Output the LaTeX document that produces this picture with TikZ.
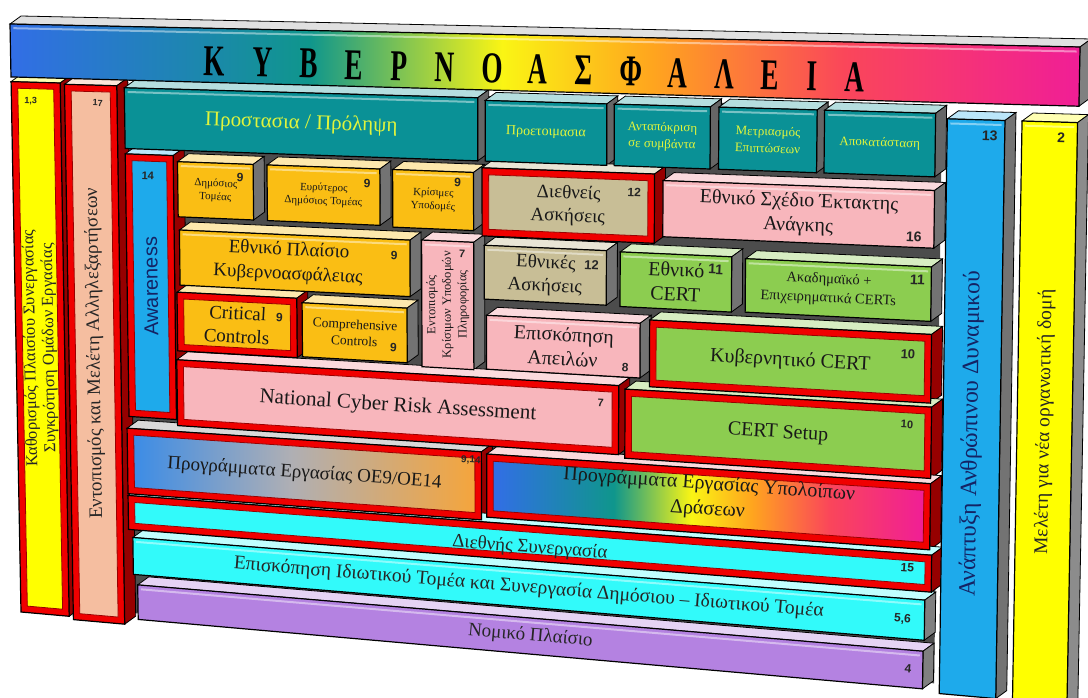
\documentclass[tikz,border=0pt]{standalone}
\usepackage{fontspec}
\setmainfont{Liberation Serif}
\newfontfamily\sansf{Liberation Sans}
\usetikzlibrary{calc}
\definecolor{rb1}{RGB}{50,110,230}
\definecolor{rb2}{RGB}{15,150,140}
\definecolor{rb3}{RGB}{250,245,20}
\definecolor{rb4}{RGB}{255,165,30}
\definecolor{rb5}{RGB}{250,70,90}
\definecolor{rb6}{RGB}{240,30,150}
\definecolor{bg1}{RGB}{60,140,230}
\definecolor{bg2}{RGB}{175,175,180}
\definecolor{bg3}{RGB}{245,165,60}
\definecolor{cTeal}{RGB}{10,145,150}
\definecolor{cTealTxt}{RGB}{225,245,60}
\definecolor{cGold}{RGB}{250,190,20}
\definecolor{cKhaki}{RGB}{200,190,150}
\definecolor{cPink}{RGB}{248,182,188}
\definecolor{cGreen}{RGB}{140,205,80}
\definecolor{cBlue}{RGB}{30,170,235}
\definecolor{cNavy}{RGB}{20,35,100}
\definecolor{cYellow}{RGB}{255,255,0}
\definecolor{cPeach}{RGB}{245,190,160}
\definecolor{cCyan}{RGB}{50,250,250}
\definecolor{cPurple}{RGB}{180,130,225}
\definecolor{cRed}{RGB}{240,0,0}
\definecolor{cRedDark}{RGB}{150,0,0}
\pgfdeclarehorizontalshading{rainbow}{100bp}{color(0bp)=(rb1); color(25bp)=(rb1); color(39bp)=(rb2); color(48bp)=(rb3); color(55bp)=(rb4); color(64bp)=(rb5); color(75bp)=(rb6); color(100bp)=(rb6)}
\pgfdeclarehorizontalshading{bgo}{100bp}{color(0bp)=(bg1); color(25bp)=(bg1); color(48bp)=(bg2); color(75bp)=(bg3); color(100bp)=(bg3)}
\newcommand\defkind[5]{\tikzset{front-#1/.style={#2}, top-#1/.style={fill=#3}, side-#1/.style={fill=#4}, txt-#1/.style={text=#5, align=center, inner sep=0pt}}}
\defkind{banner}{shade, shading=rainbow}{black!12}{black!50}{black}
\defkind{teal}{fill=cTeal}{cTeal!30!white}{black!60}{cTealTxt}
\defkind{gold}{fill=cGold}{cGold!35!white}{black!55}{black!90}
\defkind{khaki}{fill=cKhaki}{cKhaki!40!white}{black!55}{black!90}
\defkind{pink}{fill=cPink}{cPink!50!white}{black!55}{black!90}
\defkind{green}{fill=cGreen}{cGreen!35!white}{black!55}{black!90}
\defkind{blue}{fill=cBlue}{cBlue!30!white}{black!55}{cNavy}
\defkind{yellow}{fill=cYellow}{cYellow!30!white}{black!45}{black!85}
\defkind{peach}{fill=cPeach}{cPeach!40!white}{black!55}{black!85}
\defkind{cyan}{fill=cCyan}{cCyan!30!white}{black!50}{black!85}
\defkind{purple}{fill=cPurple}{cPurple!35!white}{black!50}{black!85}
\defkind{rain}{shade, shading=rainbow}{cPink!50!white}{black!55}{black!90}
\defkind{bgo}{shade, shading=bgo}{black!15}{black!55}{black!90}
\tikzset{side-red/.style={fill=cRedDark}, brk-extra/.style={},
  numst/.style={text=black!85, inner sep=0pt}}
\newif\ifextpass
\newif\ifbred
\newif\ifbvert
\pgfkeys{/brk/.cd,
  red/.code={\bredtrue},
  vert/.code={\bverttrue},
  size/.store in=\bsize,
  tu/.store in=\btu,
  tv/.store in=\btv,
  lead/.store in=\blead,
  fam/.store in=\bfam,
  nopt/.code={\tikzset{brk-extra/.style={#1}}}}
\def\ddx{11}\def\ddy{-8}
\def\bdu{0.0062}\def\bdv{0.011}
\newcommand\brick[8][]{%
  \begingroup
  \bredfalse\bvertfalse\def\bfam{}\tikzset{brk-extra/.style={}}%
  \pgfkeys{/brk/.cd, size=18, tu=0, tv=0, lead=1.22, #1}%
  \coordinate (#2-tl) at ({px(#3,#4)},{py(#3,#4)});
  \coordinate (#2-tr) at ({px(#5,#4)},{py(#5,#4)});
  \coordinate (#2-br) at ({px(#5,#6)},{py(#5,#6)});
  \coordinate (#2-bl) at ({px(#3,#6)},{py(#3,#6)});
  \ifextpass
    \path[top-#7, draw=black, line width=0.8] (#2-tl) -- (#2-tr) -- ([shift={(\ddx,\ddy)}]#2-tr) -- ([shift={(\ddx,\ddy)}]#2-tl) -- cycle;
    \ifbred\def\sidest{side-red}\else\def\sidest{side-#7}\fi
    \path[\sidest, draw=black, line width=0.8] (#2-tr) -- (#2-br) -- ([shift={(\ddx,\ddy)}]#2-br) -- ([shift={(\ddx,\ddy)}]#2-tr) -- cycle;
  \else
    \ifbred
      \path[fill=cRed, draw=black, line width=1.2] (#2-tl) -- (#2-tr) -- (#2-br) -- (#2-bl) -- cycle;
      \path[front-#7, draw=red!60!black, line width=0.8]
        ({px(#3+\bdu,#4+\bdv)},{py(#3+\bdu,#4+\bdv)}) --
        ({px(#5-\bdu,#4+\bdv)},{py(#5-\bdu,#4+\bdv)}) --
        ({px(#5-\bdu,#6-\bdv)},{py(#5-\bdu,#6-\bdv)}) --
        ({px(#3+\bdu,#6-\bdv)},{py(#3+\bdu,#6-\bdv)}) -- cycle;
    \else
      \path[front-#7, draw=black, line width=1.2] (#2-tl) -- (#2-tr) -- (#2-br) -- (#2-bl) -- cycle;
      \draw[white, opacity=0.45, line width=2]
        ({px(#3+0.003,#4+0.007)},{py(#3+0.003,#4+0.007)}) --
        ({px(#5-0.003,#4+0.007)},{py(#5-0.003,#4+0.007)});
    \fi
    \pgfmathsetmacro\uc{(#3+#5)/2+\btu}%
    \pgfmathsetmacro\vc{(#4+#6)/2+\btv}%
    \pgfmathsetmacro\bskip{\blead*\bsize}%
    \ifbvert
      \pgfmathsetmacro\ang{90+atan((11-23*\uc)/(588+70*\uc))}%
    \else
      \pgfmathsetmacro\ang{-atan((23+70*\vc)/(1070-23*\vc))}%
    \fi
    \node[txt-#7, rotate=\ang, brk-extra, font={\bfam\fontsize{\bsize}{\bskip}\selectfont}] (#2) at ({px(\uc,\vc)},{py(\uc,\vc)}) {#8};
  \fi
  \endgroup}
\newcommand\numb[5][13]{%
  \pgfmathsetmacro\nang{-atan((23+70*#4)/(1070-23*#4))}%
  \node[numst, rotate=\nang, font={\sansf\bfseries\fontsize{#1}{#1}\selectfont}] (#2) at ({px(#3,#4)},{py(#3,#4)}) {#5};}
\newcommand\allbricks{%
  \brick[size=44, fam=\bfseries, nopt={xscale=0.62}, tu=-0.01, tv=0.01]{ban}{0}{0}{1}{0.09}{banner}{\addfontfeatures{LetterSpace=100}ΚΥΒΕΡΝΟΑΣΦΑΛΕΙΑ}
  \brick[red, vert, size=16.5, lead=1.12]{colA}{0}{0.098}{0.046}{1.0}{yellow}{Καθορισμός Πλαισίου Συνεργασίας\\Συγκρότηση Ομάδων Εργασίας}
  \brick[red, vert, size=19]{colB}{0.05}{0.1}{0.099}{1.005}{peach}{Εντοπισμός και Μελέτη Αλληλεξαρτήσεων}
  \brick[size=21]{prot}{0.106}{0.103}{0.437}{0.205}{teal}{Προστασια / Πρόληψη}
  \brick[size=14]{pret}{0.444}{0.107}{0.558}{0.205}{teal}{Προετοιμασια}
  \brick[size=13, lead=1.3]{anta}{0.565}{0.107}{0.655}{0.205}{teal}{Ανταπόκριση\\σε συμβάντα}
  \brick[size=13, lead=1.3]{metr}{0.663}{0.107}{0.755}{0.205}{teal}{Μετριασμός\\Επιπτώσεων}
  \brick[size=13]{apok}{0.762}{0.107}{0.866}{0.205}{teal}{Αποκατάσταση}
  \brick[red, vert, size=20, fam=\sansf]{aw}{0.106}{0.214}{0.151}{0.655}{blue}{Awareness}
  \brick[size=11]{dim}{0.155}{0.224}{0.226}{0.316}{gold}{Δημόσιος\\Τομέας}
  \brick[size=11]{eyr}{0.239}{0.224}{0.345}{0.316}{gold}{Ευρύτερος\\Δημόσιος Τομέας}
  \brick[size=11]{kris}{0.357}{0.224}{0.433}{0.318}{gold}{Κρίσιμες\\Υποδομές}
  \brick[red, size=19]{dask}{0.441}{0.216}{0.603}{0.326}{khaki}{Διεθνείς\\Ασκήσεις}
  \brick[size=20]{sxed}{0.611}{0.226}{0.866}{0.315}{pink}{Εθνικό Σχέδιο Έκτακτης\\Ανάγκης}
  \brick[size=19, tu=-0.006, lead=1.28]{epl}{0.156}{0.338}{0.373}{0.43}{gold}{Εθνικό Πλαίσιο\\Κυβερνοασφάλειας}
  \brick[vert, size=12.5, lead=1.25]{ento}{0.384}{0.337}{0.433}{0.543}{pink}{Εντοπισμός\\Κρίσιμων Υποδομών\\Πληροφορίας}
  \brick[size=19]{eask}{0.443}{0.341}{0.558}{0.428}{khaki}{Εθνικές\\Ασκήσεις}
  \brick[size=20]{ecert}{0.571}{0.342}{0.676}{0.429}{green}{Εθνικό\\CERT}
  \brick[size=14.5, tu=-0.009, lead=1.3]{akad}{0.689}{0.344}{0.864}{0.428}{green}{Ακαδημαϊκό +\\Επιχειρηματικά CERTs}
  \brick[red, size=19]{crit}{0.153}{0.442}{0.266}{0.54}{gold}{Critical\\Controls}
  \brick[size=13.5]{comp}{0.271}{0.449}{0.37}{0.538}{gold}{Comprehensive\\Controls}
  \brick[size=20]{apei}{0.445}{0.454}{0.59}{0.541}{pink}{Επισκόπηση\\Απειλών}
  \brick[red, size=20]{kcert}{0.599}{0.448}{0.865}{0.554}{green}{Κυβερνητικό CERT}
  \brick[red, size=21]{ncra}{0.152}{0.555}{0.57}{0.665}{pink}{National Cyber Risk Assessment}
  \brick[red, size=20]{cset}{0.576}{0.56}{0.866}{0.67}{green}{CERT Setup}
  \brick[red, size=19]{oe}{0.104}{0.675}{0.44}{0.785}{bgo}{Προγράμματα Εργασίας ΟΕ9/ΟΕ14}
  \brick[red, size=20, lead=1.25, tv=-0.006]{ypol}{0.445}{0.678}{0.866}{0.78}{rain}{Προγράμματα Εργασίας Υπολοίπων\\Δράσεων}
  \brick[red, size=19, tv=0.008]{dsyn}{0.104}{0.788}{0.868}{0.845}{cyan}{Διεθνής Συνεργασία}
  \brick[size=19.5]{idiot}{0.108}{0.858}{0.862}{0.92}{cyan}{Επισκόπηση Ιδιωτικού Τομέα και Συνεργασία Δημόσιου – Ιδιωτικού Τομέα}
  \brick[size=19]{nomi}{0.112}{0.937}{0.861}{0.995}{purple}{Νομικό Πλαίσιο}
  \brick[vert, size=23.5, tv=0.04]{colC}{0.877}{0.115}{0.931}{1.0}{blue}{Ανάπτυξη Ανθρώπινου Δυναμικού}
  \brick[vert, size=19.5]{colD}{0.947}{0.115}{0.999}{1.03}{yellow}{Μελέτη για νέα οργανωτική δομή}
}
\begin{document}
\begin{tikzpicture}[x=1pt, y=-1pt,
  declare function={
    px(\uu,\vv)=(1-\uu)*(1-\vv)*10+\uu*(1-\vv)*1080+(1-\uu)*\vv*21+\uu*\vv*1068;
    py(\uu,\vv)=(1-\uu)*(1-\vv)*24+\uu*(1-\vv)*47+(1-\uu)*\vv*612+\uu*\vv*705;
  }]
\useasboundingbox (0,0) rectangle (1088,698);
\clip (0,0) rectangle (1088,698);
\fill[white] (0,0) rectangle (1088,698);
\fill[black!70] ({px(0.106,0.1)},{py(0.106,0.1)}) -- ({px(0.872,0.1)},{py(0.872,0.1)}) -- ({px(0.872,0.985)},{py(0.872,0.985)}) -- ({px(0.106,0.985)},{py(0.106,0.985)}) -- cycle;
\extpasstrue
\allbricks
\extpassfalse
\allbricks
\numb[9]{n13}{0.018}{0.13}{1,3}
\numb[9]{n17}{0.081}{0.13}{17}
\numb[11]{n14}{0.127}{0.249}{14}
\numb[12]{ndim}{0.2136}{0.246}{9}
\numb[12]{neyr}{0.333}{0.249}{9}
\numb[12]{nkris}{0.418}{0.241}{9}
\numb[12]{ndask}{0.584}{0.247}{12}
\numb[14]{nsxed}{0.847}{0.299}{16}
\numb[12]{nepl}{0.358}{0.364}{9}
\numb[11]{nento}{0.422}{0.357}{7}
\numb[13]{neask}{0.544}{0.365}{12}
\numb[14]{necert}{0.661}{0.363}{11}
\numb[14]{nakad}{0.851}{0.365}{11}
\numb[12]{ncrit}{0.2495}{0.475}{9}
\numb[12]{ncomp}{0.357}{0.514}{9}
\numb[12]{napei}{0.576}{0.525}{8}
\numb[13]{nkcert}{0.843}{0.48}{10}
\numb[11]{nncra}{0.553}{0.585}{7}
\numb[11]{ncset}{0.843}{0.589}{10}
\numb[10]{noe}{0.43}{0.69}{9,14}
\numb[12]{ndsyn}{0.845}{0.81}{15}
\numb[12]{nidiot}{0.841}{0.89}{5,6}
\numb[12]{nnomi}{0.847}{0.966}{4}
\numb[14]{nc13}{0.917}{0.139}{13}
\numb[14]{nc2}{0.984}{0.139}{2}
\end{tikzpicture}
\end{document}
